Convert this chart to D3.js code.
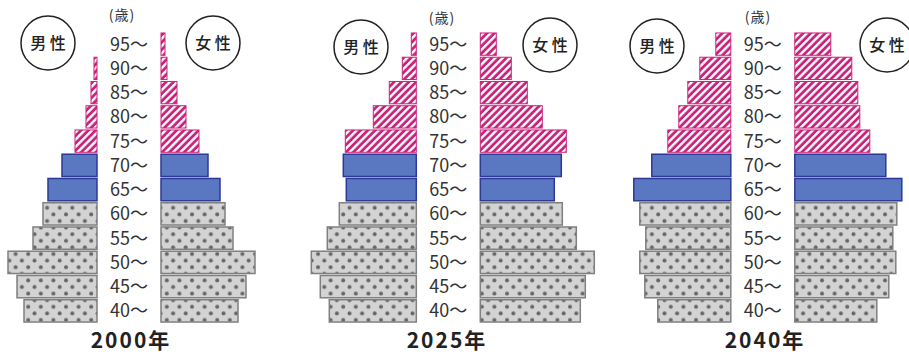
<!DOCTYPE html>
<html><head><meta charset="utf-8">
<script src="https://cdn.jsdelivr.net/npm/d3@7"></script>
<style>
html,body{margin:0;padding:0;background:#fff;}
svg{display:block;font-family:"Noto Sans CJK JP","Noto Sans",sans-serif;}
</style></head>
<body>
<svg id="chart" width="909" height="354"></svg>
<script>
// ---- data ----
const ages = ["95", "90", "85", "80", "75", "70", "65", "60", "55", "50", "45", "40"];
const years = ["2000年", "2025年", "2040年"];
const male2000   = [0, 3, 6, 11, 22, 35, 49, 54, 64, 89, 80, 73];
const female2000 = [4, 6, 16, 25, 38, 47, 59, 64, 72, 94, 85, 77];
const male2025   = [5, 14, 27, 43, 71, 73, 70, 77, 89, 105, 96, 87];
const female2025 = [16, 31, 47, 62, 86, 81, 74, 82, 96, 114, 105, 100];
const male2040   = [15, 31, 43, 52, 63, 79, 97, 91, 85, 91, 86, 73];
const female2040 = [36, 57, 63, 65, 75, 91, 107, 102, 98, 101, 94, 82];
const groupOf = ["old", "old", "old", "old", "old", "mid", "mid", "young", "young", "young", "young", "young"];
const maleLabel = "男 性", femaleLabel = "女 性", unitLabel = "(歳)";

const seriesMale = [male2000, male2025, male2040];
const seriesFemale = [female2000, female2025, female2040];

// ---- layout ----
const svg = d3.select("#chart");
const panels = [
  {cx: 129,   mc: [48, 43],  fc: [213, 43], unit: [122, 15], title: [131, 348]},
  {cx: 448.3, mc: [361, 47], fc: [550, 45], unit: [442, 18], title: [447, 348]},
  {cx: 762.8, mc: [657, 46], fc: [887, 45], unit: [758, 17], title: [765, 348]}
];
const halfGap = 32;

const defs = svg.append("defs");
const hatch = defs.append("pattern").attr("id", "hatch").attr("patternUnits", "userSpaceOnUse")
  .attr("width", 5.2).attr("height", 5.2).attr("patternTransform", "rotate(45)");
hatch.append("rect").attr("width", 5.2).attr("height", 5.2).attr("fill", "#c9237b");
hatch.append("rect").attr("x", 0).attr("width", 2.4).attr("height", 5.2).attr("fill", "#ffffff");

const dots = defs.append("pattern").attr("id", "dots").attr("patternUnits", "userSpaceOnUse")
  .attr("width", 12.6).attr("height", 13.2);
dots.append("rect").attr("width", 12.6).attr("height", 13.2).attr("fill", "#d3d3d3");
[[3, 3.2], [9.3, 9.8], [9.3 - 12.6, 9.8], [3, 3.2 + 13.2]].forEach(p =>
  dots.append("circle").attr("cx", p[0]).attr("cy", p[1]).attr("r", 2).attr("fill", "#666"));

const styles = {
  old:   {fill: "url(#hatch)", stroke: "#c9237b", sw: 1},
  mid:   {fill: "#5a78c2", stroke: "#2c3996", sw: 1.5},
  young: {fill: "url(#dots)", stroke: "#808080", sw: 1.5}
};

const y = d3.scaleBand().domain(ages).range([32, 323]).paddingInner(0.08).paddingOuter(0.04);
const w = d3.scaleLinear().domain([0, 100]).range([0, 100]);

panels.forEach((p, i) => {
  const g = svg.append("g");
  const males = seriesMale[i], females = seriesFemale[i];
  const rows = ages.map((a, j) => ({age: a, m: males[j], f: females[j], grp: groupOf[j]}));

  g.selectAll("rect.m").data(rows.filter(d => d.m > 0)).join("rect")
    .attr("class", "m")
    .attr("x", d => p.cx - halfGap - w(d.m)).attr("y", d => y(d.age))
    .attr("width", d => w(d.m)).attr("height", y.bandwidth())
    .attr("fill", d => styles[d.grp].fill).attr("stroke", d => styles[d.grp].stroke)
    .attr("stroke-width", d => styles[d.grp].sw);
  g.selectAll("rect.f").data(rows.filter(d => d.f > 0)).join("rect")
    .attr("class", "f")
    .attr("x", p.cx + halfGap).attr("y", d => y(d.age))
    .attr("width", d => w(d.f)).attr("height", y.bandwidth())
    .attr("fill", d => styles[d.grp].fill).attr("stroke", d => styles[d.grp].stroke)
    .attr("stroke-width", d => styles[d.grp].sw);

  g.selectAll("text.age").data(ages).join("text")
    .attr("class", "age")
    .attr("x", p.cx).attr("y", d => y(d) + y.bandwidth() / 2 + 6.5)
    .attr("text-anchor", "middle").attr("font-size", 18).attr("fill", "#333")
    .text(d => d + "〜");

  g.append("text").attr("x", p.unit[0]).attr("y", p.unit[1] + 5)
    .attr("text-anchor", "middle").attr("font-size", 14).attr("letter-spacing", 1).attr("fill", "#333")
    .text(unitLabel);

  [[p.mc, maleLabel], [p.fc, femaleLabel]].forEach(([c, t]) => {
    g.append("circle").attr("cx", c[0]).attr("cy", c[1]).attr("r", 27)
      .attr("fill", "#fff").attr("stroke", "#222").attr("stroke-width", 1.5);
    g.append("text").attr("x", c[0]).attr("y", c[1] + 5.5)
      .attr("text-anchor", "middle").attr("font-size", 16).attr("font-weight", 500)
      .attr("fill", "#222").text(t);
  });

  g.append("text").attr("x", p.title[0]).attr("y", p.title[1])
    .attr("text-anchor", "middle").attr("font-size", 21).attr("font-weight", 700)
    .attr("letter-spacing", 2).attr("fill", "#222").text(years[i]);
});
</script>
</body></html>
